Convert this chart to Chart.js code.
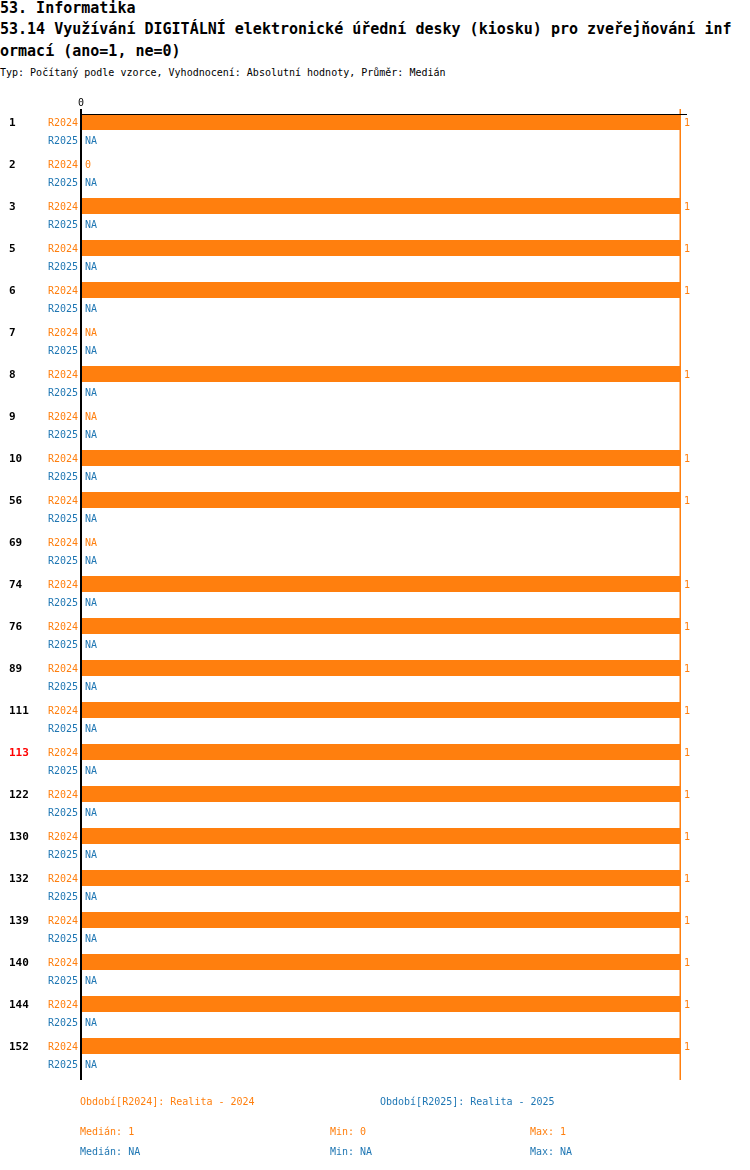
<!DOCTYPE html>
<html>
<head>
<meta charset="utf-8">
<title>53.14 Využívání DIGITÁLNÍ elektronické úřední desky</title>
<script src="https://cdn.jsdelivr.net/npm/chart.js@4/dist/chart.umd.min.js"></script>
<style>
    body { margin: 0; background: #fff; width: 750px; height: 1170px; overflow: hidden; position: relative;
           font-family: "DejaVu Sans Mono", "Liberation Mono", monospace; }
    .line { position: absolute; white-space: pre; }
    .title { font-size: 15px; font-weight: bold; line-height: 16px; left: 0; color: #000; }
    .sub { font-size: 10px; line-height: 12px; left: 0; color: #000; }
    .foot { font-size: 10px; line-height: 12px; }
    #chart { position: absolute; left: 0; top: 0; }
</style>
</head>
<body>
<div class="line title" style="top:0px">53. Informatika</div>
<div class="line title" style="top:21px">53.14 Využívání DIGITÁLNÍ elektronické úřední desky (kiosku) pro zveřejňování inf</div>
<div class="line title" style="top:43px">ormací (ano=1, ne=0)</div>
<div class="line sub" style="top:67px">Typ: Počítaný podle vzorce, Vyhodnocení: Absolutní hodnoty, Průměr: Medián</div>
<canvas id="chart" width="750" height="1170"></canvas>
<div id="footer"></div>
<script>
// Data
const categories = ['1', '2', '3', '5', '6', '7', '8', '9', '10', '56', '69', '74', '76', '89',
                    '111', '113', '122', '130', '132', '139', '140', '144', '152'];
const highlighted = ['113'];
const periods = ['R2024', 'R2025'];
const periodNames = ['Realita - 2024', 'Realita - 2025'];
const values2024 = [1, 0, 1, 1, 1, null, 1, null, 1, 1, null, 1, 1, 1, 1, 1, 1, 1, 1, 1, 1, 1, 1];
const values2025 = [null, null, null, null, null, null, null, null, null, null, null, null,
                    null, null, null, null, null, null, null, null, null, null, null];
const medians = [1, null];
const mins = [0, null];
const maxes = [1, null];
const xTicks = [0];

const colors = ['#ff7f0e', '#1f77b4'];
const FONT = '"DejaVu Sans Mono", "Liberation Mono", monospace';

function fmt(v) {
    return v === null || v === undefined ? 'NA' : String(v);
}

// Labels, axis lines and median line drawn around the bars
const decorPlugin = {
    id: 'decor',
    afterDatasetsDraw(chart) {
        const ctx = chart.ctx;
        const area = chart.chartArea;
        const xScale = chart.scales.x;
        const zeroX = xScale.getPixelForValue(0);

        ctx.save();

        // median line of the first period
        if (medians[0] !== null) {
            const mx = xScale.getPixelForValue(medians[0]) - 1.5;
            ctx.fillStyle = colors[0];
            ctx.fillRect(mx, area.top - 1, 1.5, area.bottom - area.top + 5);
        }

        // axis lines
        ctx.fillStyle = '#000';
        ctx.fillRect(zeroX - 2, area.top - 1, 2, area.bottom - area.top + 5);
        ctx.fillRect(zeroX, area.top + 4, xScale.getPixelForValue(1) + 6 - zeroX, 1);

        // tick labels on top
        ctx.font = '10px ' + FONT;
        ctx.textAlign = 'center';
        ctx.textBaseline = 'middle';
        xTicks.forEach(t => ctx.fillText(String(t), xScale.getPixelForValue(t) - 1, area.top - 7));

        chart.data.datasets.forEach((ds, di) => {
            const meta = chart.getDatasetMeta(di);
            meta.data.forEach((bar, i) => {
                const y = bar.y;
                const v = ds.data[i];
                ctx.fillStyle = colors[di];
                ctx.font = '10px ' + FONT;
                ctx.textAlign = 'right';
                ctx.fillText(periods[di], zeroX - 4, y + 1);
                ctx.textAlign = 'left';
                const vx = (v === null ? zeroX : xScale.getPixelForValue(v)) + 3;
                ctx.fillText(fmt(v), vx, y + 1);

                if (di === 0) {
                    ctx.font = 'bold 11px ' + FONT;
                    ctx.fillStyle = highlighted.includes(categories[i]) ? '#ff0000' : '#000';
                    ctx.fillText(categories[i], 9, y + 1);
                }
            });
        });
        ctx.restore();
    }
};

new Chart(document.getElementById('chart').getContext('2d'), {
    type: 'bar',
    data: {
        labels: categories,
        datasets: [
            { label: periods[0], data: values2024, backgroundColor: colors[0] },
            { label: periods[1], data: values2025, backgroundColor: colors[1] }
        ]
    },
    options: {
        indexAxis: 'y',
        responsive: false,
        animation: false,
        devicePixelRatio: 1,
        categoryPercentage: 36 / 42,
        barPercentage: 16 / 18,
        layout: { padding: { left: 82, right: 69, top: 110, bottom: 94 } },
        scales: {
            x: { display: false, min: 0, max: 1 },
            y: { display: false }
        },
        plugins: {
            legend: { display: false },
            tooltip: { enabled: false }
        }
    },
    plugins: [decorPlugin]
});

// Footer: period legend and statistics
const footer = document.getElementById('footer');
const legendX = [80, 380];
periods.forEach((p, i) => {
    footer.insertAdjacentHTML('beforeend',
        `<div class="line foot" style="top:1096px;left:${legendX[i]}px;color:${colors[i]}">Období[${p}]: ${periodNames[i]}</div>`);
    const top = 1126 + i * 20;
    footer.insertAdjacentHTML('beforeend', `
        <div class="line foot" style="top:${top}px;left:80px;color:${colors[i]}">Medián: ${fmt(medians[i])}</div>
        <div class="line foot" style="top:${top}px;left:330px;color:${colors[i]}">Min: ${fmt(mins[i])}</div>
        <div class="line foot" style="top:${top}px;left:530px;color:${colors[i]}">Max: ${fmt(maxes[i])}</div>
    `);
});
</script>
</body>
</html>
